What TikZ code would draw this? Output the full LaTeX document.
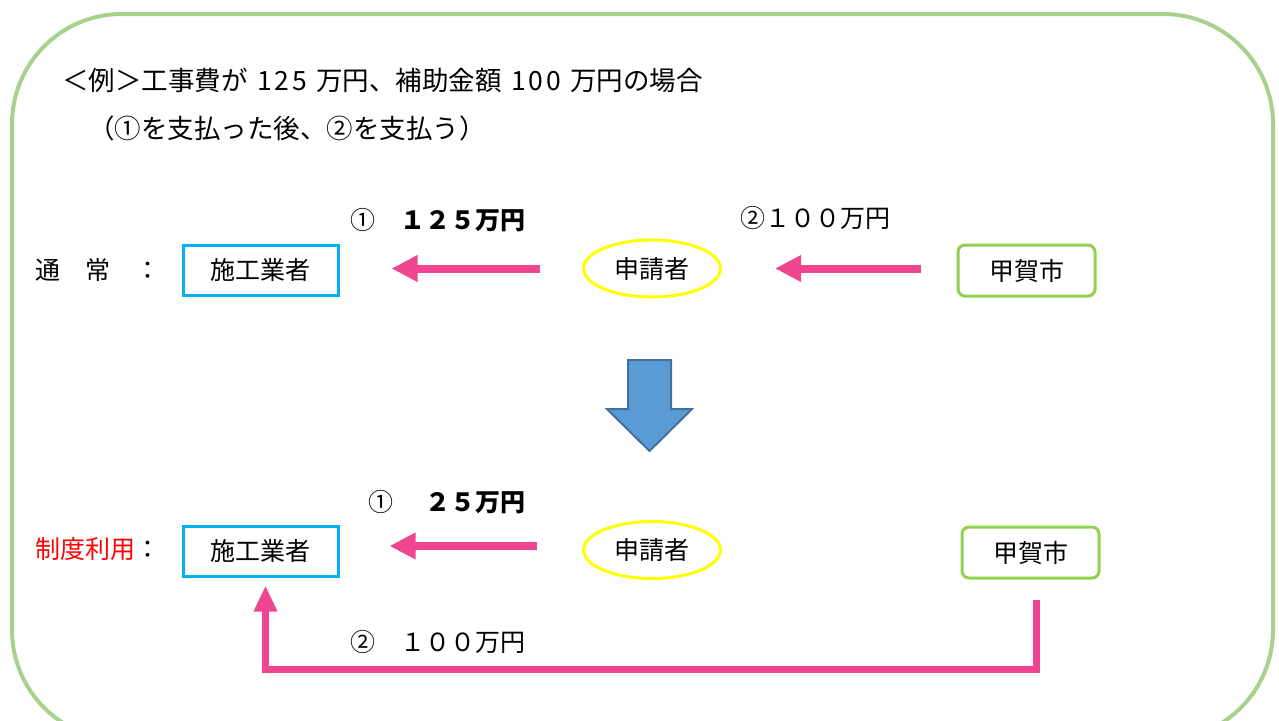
\documentclass[tikz,border=0pt]{standalone}
\usepackage{fontspec}
\usetikzlibrary{arrows.meta,shapes.geometric}
\newfontfamily\jp{Noto Sans CJK JP}
\definecolor{frameg}{HTML}{A9D18E}
\definecolor{boxblue}{HTML}{00B0F0}
\definecolor{kokag}{HTML}{92D050}
\definecolor{ellyel}{HTML}{FFFF00}
\definecolor{paypink}{HTML}{F04691}
\definecolor{arrfill}{HTML}{5B9BD5}
\definecolor{arrline}{HTML}{41719C}
\newcommand{\widedigit}[1]{\makebox[17.5pt]{#1}}
\begin{document}
\begin{tikzpicture}[x=1pt,y=-1pt,
  txt/.style={font=\jp\fontsize{25}{28}\selectfont, inner sep=0pt},
  ttl/.style={font=\jp\fontsize{26.5}{30}\selectfont, inner sep=0pt, anchor=west},
  contractor/.style={draw=boxblue, line width=3pt, minimum width=155pt, minimum height=50pt, txt},
  applicant/.style={ellipse, draw=ellyel, line width=3pt, minimum width=137pt, minimum height=57pt, txt},
  city/.style={draw=kokag, line width=3pt, rounded corners=7pt, minimum width=137pt, minimum height=51pt, txt},
  pay/.style={draw=paypink, line width=8pt, -{Triangle[width=25pt,length=26pt]}},
  bent/.style={draw=paypink, line width=7pt, line join=miter, -{Triangle[width=22pt,length=26pt]}},
  amount/.style={txt, anchor=west}
]
\useasboundingbox (0,0) rectangle (1279,720);
\draw[frameg, line width=4pt, rounded corners=110pt] (12,14) rectangle (1273,740);

\node[ttl] (t1) at (62,80) {＜例＞工事費が\hspace{8pt}\widedigit{1}\widedigit{2}\widedigit{5}\hspace{8pt}万円、補助金額\hspace{8pt}\widedigit{1}\widedigit{0}\widedigit{0}\hspace{8pt}万円の場合};
\node[ttl] (t2) at (88,128) {（①を支払った後、②を支払う）};

% row 1
\node[amount] (lab1) at (35,270) {通　常　：};
\node[contractor] (c1) at (260.5,270) {施工業者};
\node[applicant] (a1) at (652,268.5) {申請者};
\node[city] (k1) at (1026.5,270.5) {甲賀市};
\draw[pay, shorten <=42pt, shorten >=52pt] (a1.west) -- (c1.east |- a1.west);
\draw[pay, shorten <=36pt, shorten >=53pt] (k1.west |- a1.east) -- (a1.east);
\node[amount] (m1) at (350,220) {①　\textbf{１２５万円}};
\node[amount] (m2) at (740,218) {②１００万円};

% down arrow
\draw[fill=arrfill, draw=arrline, line width=2pt, line join=miter]
  (628,360) -- (671,360) -- (671,409) -- (692,409) -- (649.5,451) -- (607,409) -- (628,409) -- cycle;

% row 2
\node[amount, text=red] (lab2) at (35,549) {制度利用\textcolor{black}{：}};
\node[contractor] (c2) at (260.5,551) {施工業者};
\node[applicant] (a2) at (652,550) {申請者};
\node[city] (k2) at (1030.5,552.5) {甲賀市};
\draw[pay, shorten <=45pt, shorten >=50pt] (a2.west |- 0,546) -- (c2.east |- 0,546);
\node[amount] (m3) at (368,502) {①\hspace{32pt}\textbf{２５万円}};
\draw[bent] ([xshift=6pt,yshift=-20pt]k2.south) -- ++(0,70) -| ([xshift=5pt,yshift=-8pt]c2.south);
\node[amount] (m4) at (350,642) {②　１００万円};
\end{tikzpicture}
\end{document}
